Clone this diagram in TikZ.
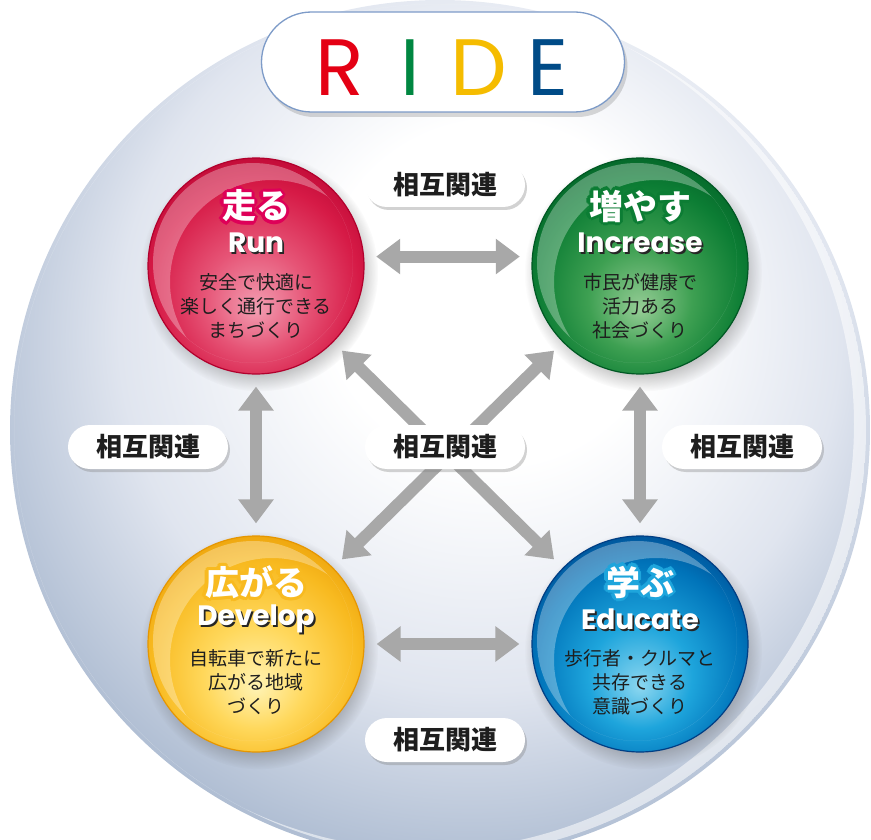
\documentclass[tikz,border=0pt]{standalone}
\usepackage{xcolor}
\usepackage{fontspec}
\usetikzlibrary{arrows.meta, shadows, calc}
\newfontfamily\jpfont{Noto Sans CJK JP}
\newfontfamily\enfont{Poppins}
\definecolor{arrowgray}{RGB}{168,168,168}
\definecolor{pillblue}{RGB}{125,155,200}
\definecolor{textdark}{RGB}{30,30,30}
\definecolor{rideR}{RGB}{228,0,20}
\definecolor{rideI}{RGB}{0,135,65}
\definecolor{rideD}{RGB}{245,188,0}
\definecolor{rideE}{RGB}{0,75,135}
\definecolor{globe1}{RGB}{224,229,239}
\definecolor{globe2}{RGB}{172,187,209}
\definecolor{globe3}{RGB}{122,144,180}
\definecolor{redlight}{RGB}{242,158,178}
\definecolor{redmid}{RGB}{230,84,118}
\definecolor{reddark}{RGB}{214,26,70}
\definecolor{redrim}{RGB}{178,0,45}
\definecolor{redline}{RGB}{222,0,88}
\definecolor{greenlight}{RGB}{150,205,150}
\definecolor{greenmid}{RGB}{62,160,82}
\definecolor{greendark}{RGB}{12,125,52}
\definecolor{greenrim}{RGB}{0,88,35}
\definecolor{yellowlight}{RGB}{255,243,180}
\definecolor{yellowmid}{RGB}{255,216,92}
\definecolor{yellowdark}{RGB}{248,186,32}
\definecolor{yellowrim}{RGB}{230,150,0}
\definecolor{bluelight}{RGB}{140,215,240}
\definecolor{bluemid}{RGB}{30,165,220}
\definecolor{bluedark}{RGB}{0,115,185}
\definecolor{bluerim}{RGB}{0,62,132}

% shadings for the globe and the four balls
\pgfdeclareradialshading{globe}{\pgfpoint{4bp}{10bp}}{color(0bp)=(white); color(10bp)=(white); color(21bp)=(globe1); color(30bp)=(globe2); color(40bp)=(globe3); color(50bp)=(globe3)}
\newcommand{\ballshade}[1]{%
  \pgfdeclareradialshading{#1ball}{\pgfpoint{0bp}{-10bp}}{color(0bp)=(#1light); color(12bp)=(#1mid); color(24bp)=(#1dark); color(34bp)=(#1rim); color(50bp)=(#1rim)}}
\ballshade{red}
\ballshade{green}
\ballshade{yellow}
\ballshade{blue}

% white lettering with a coloured rim
\newcommand{\rimtext}[2]{%
  \setbox0=\hbox{#2}%
  \hbox to \wd0{%
    \foreach \ang in {0,30,...,330}{%
      \pgfmathsetlengthmacro\rdx{3.2*cos(\ang)}%
      \pgfmathsetlengthmacro\rdy{3.2*sin(\ang)}%
      \rlap{\kern\rdx\raisebox{\rdy}{\textcolor{#1}{#2}}}}%
    \rlap{\textcolor{white}{#2}}\hss}}
% white lettering with a hard shadow
\newcommand{\dropname}[1]{\rlap{\kern1.8pt\raisebox{-1.8pt}{\textcolor{black!85}{#1}}}\textcolor{white}{#1}}

\begin{document}
\begin{tikzpicture}[x=1pt, y=-1pt,
    ball/.style={circle, minimum size=216pt, inner sep=0pt, draw=#1rim, line width=1.2pt,
      shade, shading=#1ball,
      circular drop shadow={shadow xshift=3pt, shadow yshift=-6pt, opacity=.3, fill=black!70}},
    balltitle/.style={font=\jpfont\bfseries\fontsize{34}{36}\selectfont},
    ballname/.style={font=\enfont\bfseries\fontsize{28}{30}\selectfont},
    balltext/.style={font=\jpfont\fontsize{19}{24}\selectfont, text=textdark, align=center},
    relbox/.style={fill=white, rounded corners=22pt, minimum width=160pt, minimum height=44pt,
      font=\jpfont\bfseries\fontsize{26}{28}\selectfont, text=textdark,
      drop shadow={shadow xshift=2pt, shadow yshift=-3pt, opacity=.35}},
    relarrow/.style={draw=arrowgray, line width=12pt,
      {Triangle[length=24pt,width=34pt]}-{Triangle[length=24pt,width=34pt]},
      shorten <=12pt, shorten >=12pt}]

  \useasboundingbox (0,0) rectangle (871,840);
  \clip (0,0) rectangle (871,840);

  % Globe
  \coordinate (mid) at (440,430);
  \shade[shading=globe] (mid) circle (430pt);
  \begin{scope}
    \clip (mid) circle (426pt);
    \fill[white, opacity=.55, even odd rule] (mid) circle (426pt) ($(mid)+(-12,-6)$) circle (426pt);
  \end{scope}

  % Title
  \node[fill=white, draw=pillblue, line width=1.3pt, rounded corners=50pt, minimum width=363pt, minimum height=100pt,
    drop shadow={shadow xshift=3pt, shadow yshift=-5pt, opacity=.3}] (ride) at (443,62) {};
  \foreach \l/\x/\c in {R/340/rideR, I/410/rideI, D/479/rideD, E/548/rideE}
    \node[font=\enfont\fontsize{80}{80}\selectfont, text=\c, inner sep=0pt] (let\l) at (\x,68) {\l};

  % Balls
  \node[ball=red] (run) at (256,266) {};
  \node[ball=green] (inc) at (640,266) {};
  \node[ball=yellow] (dev) at (256,644) {};
  \node[ball=blue] (edu) at (640,644) {};

  % Gloss
  \foreach \b in {run,inc,dev,edu}{
    \begin{scope}
      \clip ($(\b)+(-3,-3)$) circle (100pt);
      \fill[white, opacity=.3, even odd rule] ($(\b)+(-3,-3)$) circle (100pt) ($(\b)+(16,16)$) circle (102pt);
    \end{scope}
  }

  % Arrows
  \draw[relarrow] (run.5) -- (inc.175);
  \draw[relarrow] (dev) -- (edu);
  \draw[relarrow] (run) -- (dev);
  \draw[relarrow] (inc) -- (edu);
  \draw[relarrow] (run) -- (edu);
  \draw[relarrow] (inc) -- (dev);

  % Ball texts
  \node[balltitle] (runjp) at ($(run)+(0,-60)$) {\rimtext{redline}{走る}};
  \node[ballname] (runen) at ($(run)+(0,-22)$) {\dropname{Run}};
  \node[balltext] (runtx) at ($(run)+(0,40)$) {安全で快適に\\楽しく通行できる\\まちづくり};

  \node[balltitle] (incjp) at ($(inc)+(0,-60)$) {\rimtext{greendark}{増やす}};
  \node[ballname] (incen) at ($(inc)+(0,-22)$) {\dropname{Increase}};
  \node[balltext] (inctx) at ($(inc)+(0,40)$) {市民が健康で\\活力ある\\社会づくり};

  \node[balltitle] (devjp) at ($(dev)+(0,-62)$) {\rimtext{yellowdark}{広がる}};
  \node[ballname] (deven) at ($(dev)+(0,-24)$) {\dropname{Develop}};
  \node[balltext] (devtx) at ($(dev)+(0,38)$) {自転車で新たに\\広がる地域\\づくり};

  \node[balltitle] (edujp) at ($(edu)+(0,-62)$) {\rimtext{bluemid}{学ぶ}};
  \node[ballname] (eduen) at ($(edu)+(0,-24)$) {\dropname{Educate}};
  \node[balltext] (edutx) at ($(edu)+(0,38)$) {歩行者・クルマと\\共存できる\\意識づくり};

  % Relation labels
  \node[relbox] (reltop) at (445,185) {相互関連};
  \node[relbox] (relleft) at (148,447) {相互関連};
  \node[relbox] (relmid) at (445,447) {相互関連};
  \node[relbox] (relright) at (742,447) {相互関連};
  \node[relbox] (relbot) at (445,740) {相互関連};

\end{tikzpicture}
\end{document}
